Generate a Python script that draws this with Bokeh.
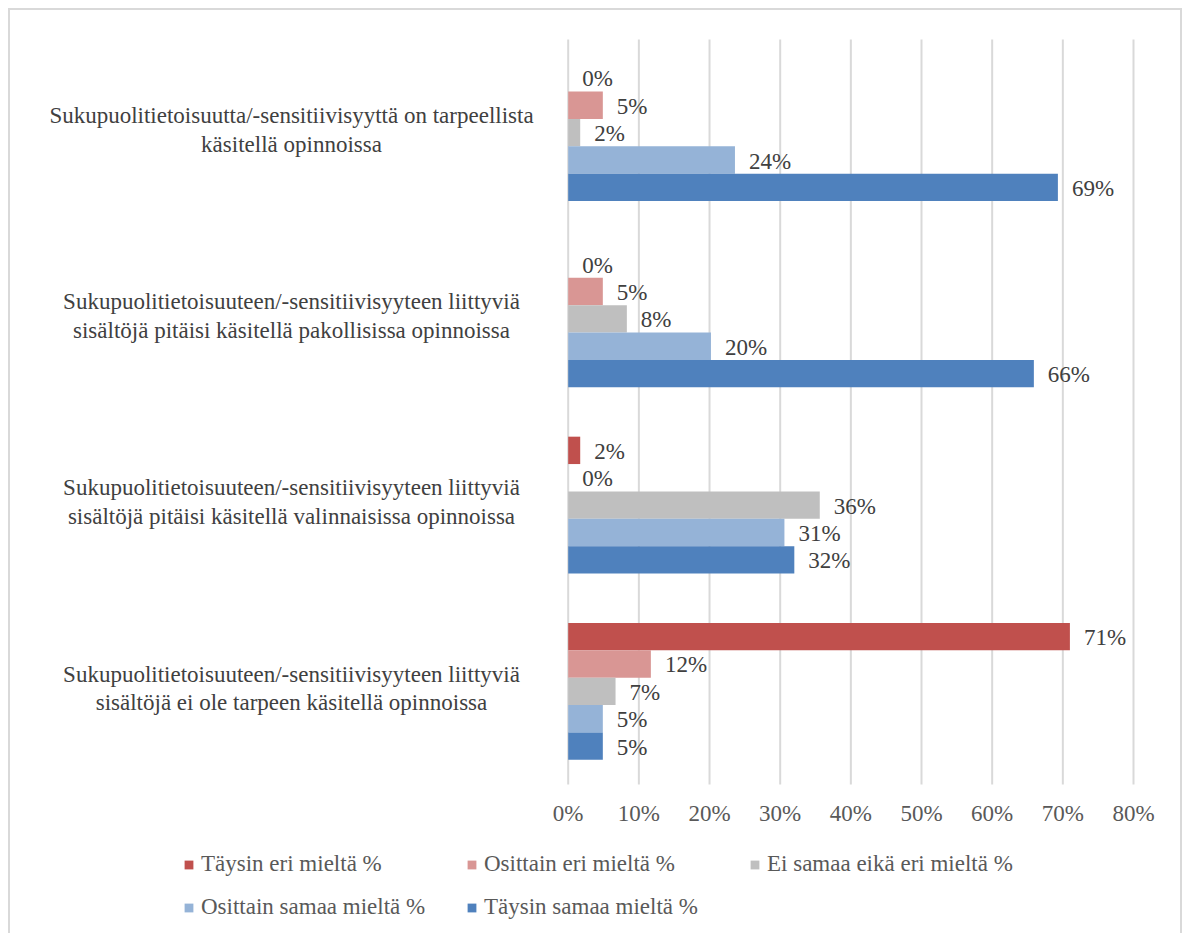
from bokeh.plotting import figure
from bokeh.models import (ColumnDataSource, Legend, LegendItem, Range1d, LabelSet)
from bokeh.embed import file_html
from bokeh.resources import INLINE

# ---- data ----
categories = [
    "Sukupuolitietoisuutta/-sensitiivisyyttä on tarpeellista\nkäsitellä opinnoissa",
    "Sukupuolitietoisuuteen/-sensitiivisyyteen liittyviä\nsisältöjä pitäisi käsitellä pakollisissa opinnoissa",
    "Sukupuolitietoisuuteen/-sensitiivisyyteen liittyviä\nsisältöjä pitäisi käsitellä valinnaisissa opinnoissa",
    "Sukupuolitietoisuuteen/-sensitiivisyyteen liittyviä\nsisältöjä ei ole tarpeen käsitellä opinnoissa",
]
series = ["Täysin eri mieltä %", "Osittain eri mieltä %", "Ei samaa eikä eri mieltä %",
          "Osittain samaa mieltä %", "Täysin samaa mieltä %"]
colors = ["#c0504d", "#d99694", "#bfbfbf", "#95b3d7", "#4f81bd"]
taysin_eri = [0.0, 0.0, 1.7, 71.0]
osittain_eri = [4.9, 4.9, 0.0, 11.7]
ei_samaa = [1.7, 8.3, 35.6, 6.7]
osittain_samaa = [23.6, 20.2, 30.6, 4.9]
taysin_samaa = [69.3, 65.9, 32.0, 4.9]
x_ticks = [0, 10, 20, 30, 40, 50, 60, 70, 80]
x_tick_labels = ["0%", "10%", "20%", "30%", "40%", "50%", "60%", "70%", "80%"]

values = [taysin_eri, osittain_eri, ei_samaa, osittain_samaa, taysin_samaa]

# ---- layout constants (pixels) ----
FONT = "Liberation Serif"
FS = "23px"
CONTENT_W, CONTENT_H = 1170, 925
LEFT_PAD = 557.7          # content left edge -> 0 %
PLOT_W = 565.3            # 0 % -> 80 %
RIGHT_PAD = CONTENT_W - LEFT_PAD - PLOT_W
TOP_PAD = 29              # content top -> top of category area
PLOT_H = 745              # category area height
BOTTOM_PAD = CONTENT_H - TOP_PAD - PLOT_H
PX = PLOT_W / 80.0
PY = PLOT_H / 4.0
LABEL_CENTER = 281        # centre of the category label blocks
TICK_LABEL_DY = 29        # below the category area

ncat = len(categories)
group = 0.735
h = group / len(series)
centers = [ncat - 0.5 - k for k in range(ncat)]

p = figure(frame_width=CONTENT_W, frame_height=CONTENT_H,
           x_range=Range1d(-LEFT_PAD / PX, 80 + RIGHT_PAD / PX),
           y_range=Range1d(-BOTTOM_PAD / PY, ncat + TOP_PAD / PY),
           x_axis_location=None, y_axis_location=None,
           output_backend="svg", toolbar_location=None,
           min_border=0)
p.styles = {"margin-left": "8px", "margin-top": "8px",
            "border": "2px solid #d9d9d9"}
p.outline_line_color = None
p.background_fill_color = "white"
p.border_fill_color = "white"
p.xgrid.grid_line_color = None
p.ygrid.grid_line_color = None

# vertical gridlines at the ticks
grid_src = ColumnDataSource(dict(x=x_ticks, y0=[0] * len(x_ticks),
                                 y1=[ncat] * len(x_ticks)))
p.segment(x0="x", y0="y0", x1="x", y1="y1", source=grid_src,
          line_color="#d9d9d9", line_width=2)

items = []
for j, (name, vals, col) in enumerate(zip(series, values, colors)):
    ys = [c + group / 2 - h * (j + 0.5) for c in centers]
    src = ColumnDataSource(dict(y=ys, right=vals,
                                txt=["%d%%" % round(v) for v in vals]))
    r = p.hbar(y="y", left=0, right="right", height=h, source=src,
               fill_color=col, line_color=None)
    items.append(LegendItem(label=name, renderers=[r]))
    p.add_layout(LabelSet(x="right", y="y", text="txt", source=src,
                          x_offset=14, y_offset=-1, text_baseline="middle",
                          text_font=FONT, text_font_size=FS,
                          text_color="#404040"))

# x tick labels
tick_src = ColumnDataSource(dict(x=x_ticks, y=[-TICK_LABEL_DY / PY] * len(x_ticks),
                                 t=x_tick_labels))
p.text(x="x", y="y", text="t", source=tick_src, text_align="center",
       text_baseline="middle", text_font={"value": FONT},
       text_font_size={"value": FS}, text_color="#595959")

# category labels
cat_src = ColumnDataSource(dict(x=[(LABEL_CENTER - LEFT_PAD) / PX] * ncat,
                                y=centers, t=categories))
p.text(x="x", y="y", text="t", source=cat_src, text_align="center",
       text_baseline="middle", y_offset=-3, text_font={"value": FONT},
       text_font_size={"value": FS}, text_color="#404040",
       text_line_height=1.15)

# legend: 3 columns, 2 rows, filled row by row
NCOLS, NROWS = 3, 2
order = [r * NCOLS + c for c in range(NCOLS) for r in range(NROWS)
         if r * NCOLS + c < len(items)]
legend = Legend(items=[items[i] for i in order], ncols=NCOLS,
                location=(173, 15),
                margin=0, padding=0, spacing=17, label_width=248,
                glyph_width=11, glyph_height=11, label_standoff=7,
                label_text_font=FONT, label_text_font_size=FS,
                label_text_color="#595959", border_line_color=None,
                background_fill_alpha=0)
p.add_layout(legend, "center")

open("out.html", "w").write(file_html(p, INLINE))
